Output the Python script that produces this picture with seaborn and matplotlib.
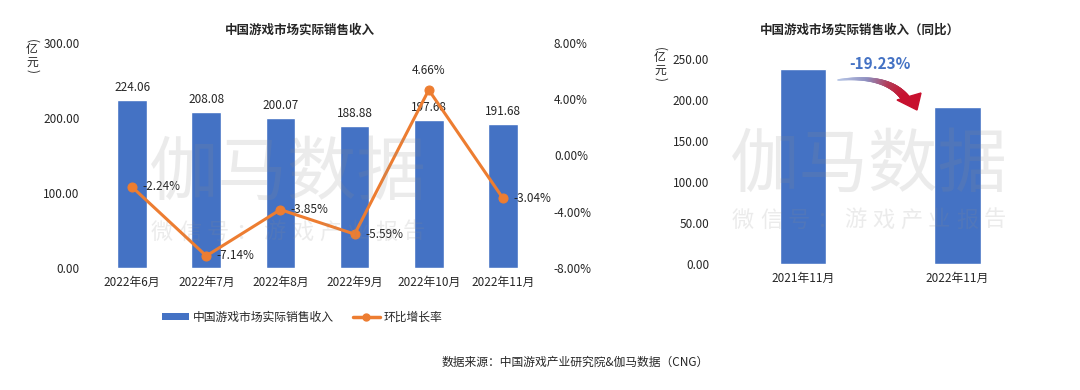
import numpy as np
import pandas as pd
import matplotlib
matplotlib.use("Agg")
import matplotlib.pyplot as plt
import seaborn as sns
from matplotlib.patches import Patch
from matplotlib.lines import Line2D
from matplotlib.collections import LineCollection
from matplotlib.colors import LinearSegmentedColormap

months = ["2022年6月", "2022年7月", "2022年8月", "2022年9月", "2022年10月", "2022年11月"]
revenue = [224.06, 208.08, 200.07, 188.88, 197.68, 191.68]
mom_growth = [-2.24, -7.14, -3.85, -5.59, 4.66, -3.04]

yoy_labels = ["2021年11月", "2022年11月"]
yoy_revenue = [237.31, 191.68]
yoy_change = -19.23

left_ticks = [0, 100, 200, 300]
right_ticks = [-8, -4, 0, 4, 8]
yoy_ticks = [0, 50, 100, 150, 200, 250]

BLUE = "#4472C4"
ORANGE = "#ED7D31"
TXT = "#262626"

sns.set_theme(style="white")
plt.rcParams["font.family"] = ["Noto Sans CJK SC", "DejaVu Sans"]
plt.rcParams["axes.unicode_minus"] = False

W, H = 1080, 390
fig = plt.figure(figsize=(10.8, 3.9), dpi=100)
fig.patch.set_facecolor("white")


def fx(px):
    return px / W


def fy(py):
    return 1 - py / H


def unit_label(cx, cy):
    # vertical "（亿元）" with upright characters
    fig.text(fx(cx), fy(cy - 14), "(", rotation=270, ha="center", va="center", fontsize=8.5, color=TXT)
    fig.text(fx(cx), fy(cy - 5), "亿", ha="center", va="center", fontsize=8.5, color=TXT)
    fig.text(fx(cx), fy(cy + 7), "元", ha="center", va="center", fontsize=8.5, color=TXT)
    fig.text(fx(cx), fy(cy + 16), ")", rotation=270, ha="center", va="center", fontsize=8.5, color=TXT)


# ---------------- left chart ----------------
ax = fig.add_axes([0.088, 0.3128, 0.412, 0.577])
df = pd.DataFrame({"month": months, "revenue": revenue})
sns.barplot(data=df, x="month", y="revenue", color=BLUE, saturation=1, width=0.4, ax=ax)
ax.set_xlim(-0.5, 5.5)
ax.set_ylim(0, 300)
ax.set_yticks(left_ticks)
ax.set_yticklabels([f"{v:.2f}" for v in left_ticks], fontsize=8.5, color=TXT)
ax.tick_params(axis="x", labelsize=8.5, colors=TXT, length=0, pad=6)
ax.tick_params(axis="y", length=0, pad=11)
ax.set_xlabel("")
ax.set_ylabel("")
for s in ax.spines.values():
    s.set_visible(False)
for i, v in enumerate(revenue):
    ax.text(i, v + 8, f"{v:.2f}", ha="center", va="bottom", fontsize=8.5, color=TXT)

ax2 = ax.twinx()
sns.lineplot(x=np.arange(len(months)), y=mom_growth, ax=ax2, color=ORANGE, linewidth=2.2,
             marker="o", markersize=6.5, markeredgecolor=ORANGE)
ax2.set_ylim(-8, 8)
ax2.set_yticks(right_ticks)
ax2.set_yticklabels([f"{v:.2f}%" for v in right_ticks], fontsize=8.5, color=TXT)
ax2.tick_params(axis="y", length=0, pad=10)
ax2.set_ylabel("")
for s in ax2.spines.values():
    s.set_visible(False)
for i, v in enumerate(mom_growth):
    if v > 0:
        ax2.annotate(f"{v:.2f}%", (i, v), xytext=(0, 9), textcoords="offset points",
                     ha="center", va="bottom", fontsize=8.5, color=TXT)
    else:
        ax2.annotate(f"{v:.2f}%", (i, v), xytext=(7.5, 0), textcoords="offset points",
                     ha="left", va="center", fontsize=8.5, color=TXT)

fig.text(fx(300), fy(30), "中国游戏市场实际销售收入", ha="center", va="center",
         fontsize=9, fontweight="bold", color=TXT)
unit_label(32, 55)

handles = [Patch(facecolor=BLUE, edgecolor="none", label="中国游戏市场实际销售收入"),
           Line2D([0], [0], color=ORANGE, linewidth=2.5, marker="o", markersize=5,
                  label="环比增长率")]
fig.legend(handles=handles, loc="center", bbox_to_anchor=(fx(302), fy(317)), ncol=2,
           frameon=False, fontsize=8.5, handlelength=2.3, handleheight=0.6, columnspacing=1.6,
           handletextpad=0.3, labelcolor=TXT)

# ---------------- right chart ----------------
bx = fig.add_axes([0.672, 0.3231, 0.286, 0.5256])
dfy = pd.DataFrame({"month": yoy_labels, "revenue": yoy_revenue})
sns.barplot(data=dfy, x="month", y="revenue", color=BLUE, saturation=1, width=0.3, ax=bx)
bx.set_xlim(-0.5, 1.5)
bx.set_ylim(0, 250)
bx.set_yticks(yoy_ticks)
bx.set_yticklabels([f"{v:.2f}" for v in yoy_ticks], fontsize=8.5, color=TXT)
bx.tick_params(axis="x", labelsize=8.5, colors=TXT, length=0, pad=6)
bx.tick_params(axis="y", length=0, pad=12)
bx.set_xlabel("")
bx.set_ylabel("")
for s in bx.spines.values():
    s.set_visible(False)

fig.text(fx(860), fy(30), "中国游戏市场实际销售收入（同比）", ha="center", va="center",
         fontsize=9, fontweight="bold", color=TXT)
unit_label(660, 63)

# gradient curved arrow (decorative)
t = np.linspace(0, 1, 80)
p0 = np.array([838.0, 80.0]); p1 = np.array([888.0, 74.0]); p2 = np.array([906.0, 99.0])
pts = ((1 - t)[:, None] ** 2) * p0 + (2 * (1 - t) * t)[:, None] * p1 + (t[:, None] ** 2) * p2
X = fx(pts[:, 0]); Y = fy(pts[:, 1])
segs = np.stack([np.column_stack([X[:-1], Y[:-1]]), np.column_stack([X[1:], Y[1:]])], axis=1)
cmap = LinearSegmentedColormap.from_list("br", ["#b7c6e6", "#8f8fc0", "#b53a55", "#C8102E"])
lc = LineCollection(segs, colors=cmap(t[:-1]), linewidths=np.linspace(1.2, 6.5, len(segs)),
                    transform=fig.transFigure, capstyle="round")
fig.add_artist(lc)
head = plt.Polygon([[fx(897), fy(100)], [fx(921), fy(93)], [fx(917), fy(110)]], closed=True,
                   color="#C8102E", transform=fig.transFigure)
fig.add_artist(head)
fig.text(fx(880), fy(64), f"{yoy_change:.2f}%", ha="center", va="center",
         fontsize=11, fontweight="bold", color=BLUE)

# watermarks
wm_sub = "微信号：游戏产业报告"
for cx, cy_big, cy_small in ((288, 174, 232), (869, 166, 220)):
    fig.text(fx(cx), fy(cy_big), "伽马数据", ha="center", va="center", fontsize=50,
             color="#8c8c8c", alpha=0.17, zorder=10)
    xs = np.linspace(cx - 126, cx + 126, len(wm_sub))
    for ch, x in zip(wm_sub, xs):
        fig.text(fx(x), fy(cy_small), ch, ha="center", va="center", fontsize=16,
                 color="#8c8c8c", alpha=0.17, zorder=10)

fig.text(fx(575), fy(362), "数据来源：中国游戏产业研究院&伽马数据（CNG）", ha="center",
         va="center", fontsize=8.5, color=TXT)

fig.savefig("out.png", dpi=100, facecolor="white")
